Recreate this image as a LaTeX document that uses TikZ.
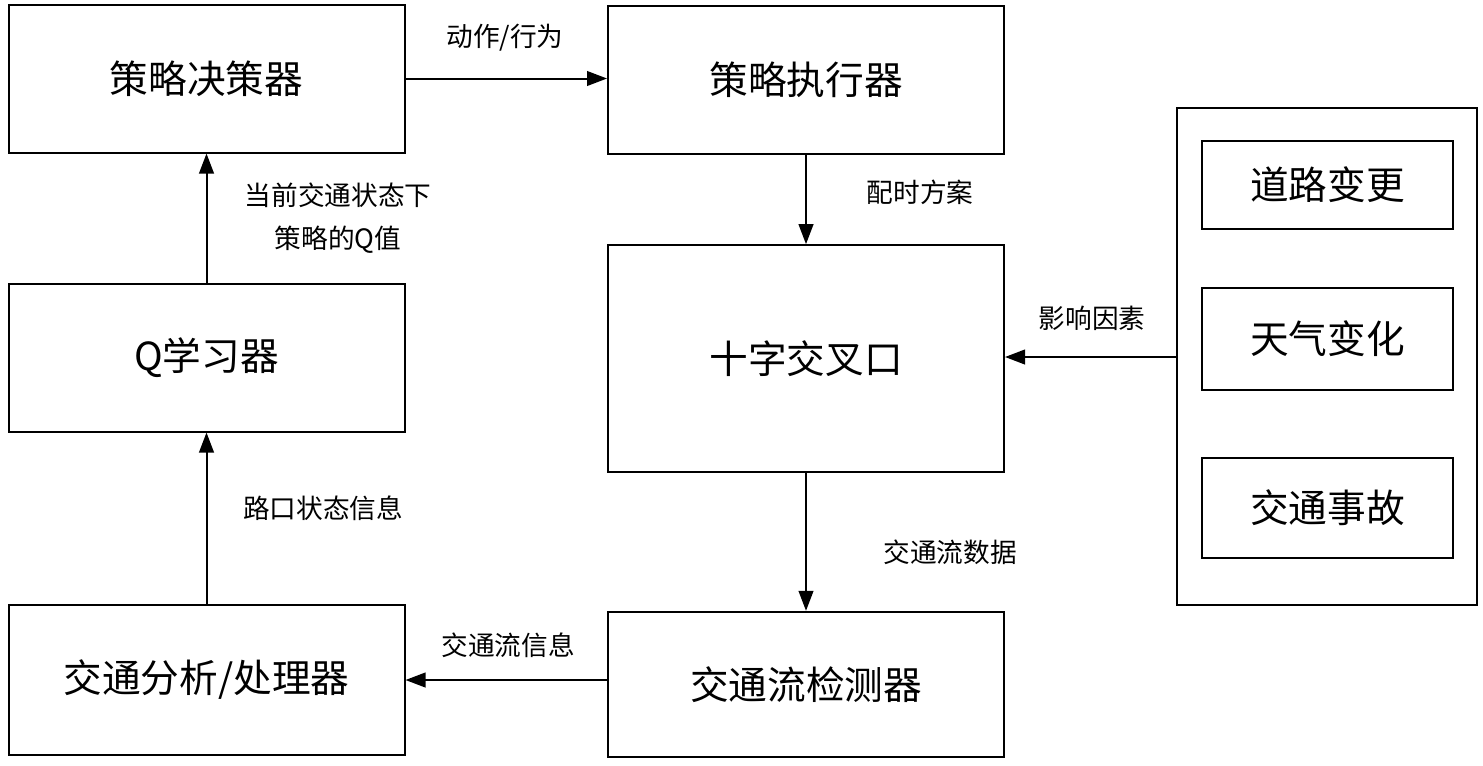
\documentclass[tikz,border=0pt]{standalone}
\usepackage{fontspec}
\setmainfont{Noto Sans CJK SC}
\usetikzlibrary{arrows.meta}
\tikzset{every picture/.style={line width=1.5pt},
  blk/.style={draw,minimum width=297pt,minimum height=111pt,font=\fontsize{29}{34}\selectfont,inner sep=0pt},
  sblk/.style={draw,minimum width=188pt,minimum height=66pt,font=\fontsize{29}{34}\selectfont,inner sep=0pt},
  lbl/.style={font=\fontsize{20}{24}\selectfont,inner sep=0pt},
  arr/.style={-{Triangle[length=15pt,width=11pt]}}}
\begin{document}
\begin{tikzpicture}[x=0.75pt,y=0.75pt,yscale=-1,xscale=1]
	\useasboundingbox (0,0) rectangle (1483,765);
	
	% Blocks
	\node[blk] (decide) at (206.5,78.5) {策略决策器};
	\node[blk] (exec) at (806,80) {策略执行器};
	\node[blk,minimum height=170pt] (cross) at (806,358.5) {十字交叉口};
	\node[blk] (qlearn) at (206.5,357.5) {Q学习器};
	\node[blk,minimum height=113pt] (analy) at (206.5,680) {交通分析/处理器};
	\node[blk,minimum height=109pt] (detect) at (806,684.5) {交通流检测器};
	
	% Factors
	\draw (1177,108) rectangle (1477,605);
	\coordinate (fac) at (1177,357);
	\node[sblk] (road) at (1327.5,185) {道路变更};
	\node[sblk,minimum height=76pt] (weather) at (1327.5,339) {天气变化};
	\node[sblk,minimum height=75pt] (acc) at (1327.5,508) {交通事故};
	
	% Connectors
	\draw[arr] (decide.east) -- (exec.west |- decide.east);
	\draw[arr] (exec.south) -- (cross.north);
	\draw[arr] (fac) -- (cross.east |- fac);
	\draw[arr] (cross.south) -- (detect.north);
	\draw[arr] (detect.west |- analy.east) -- (analy.east);
	\draw[arr] (analy.north) -- (qlearn.south);
	\draw[arr] (qlearn.north) -- (decide.south);
	
	% Labels
	\node[lbl] (l1) at (505,38) {动作/行为};
	\node[lbl] (l2) at (920,192) {配时方案};
	\node[lbl] (l3) at (1092,318) {影响因素};
	\node[lbl] (l4) at (950,552) {交通流数据};
	\node[lbl] (l5) at (508,645) {交通流信息};
	\node[lbl] (l6) at (323,508) {路口状态信息};
	\node[lbl] (l7) at (338,195) {当前交通状态下};
	\node[lbl] (l8) at (338,240) {策略的Q值};
	
\end{tikzpicture}
\end{document}
